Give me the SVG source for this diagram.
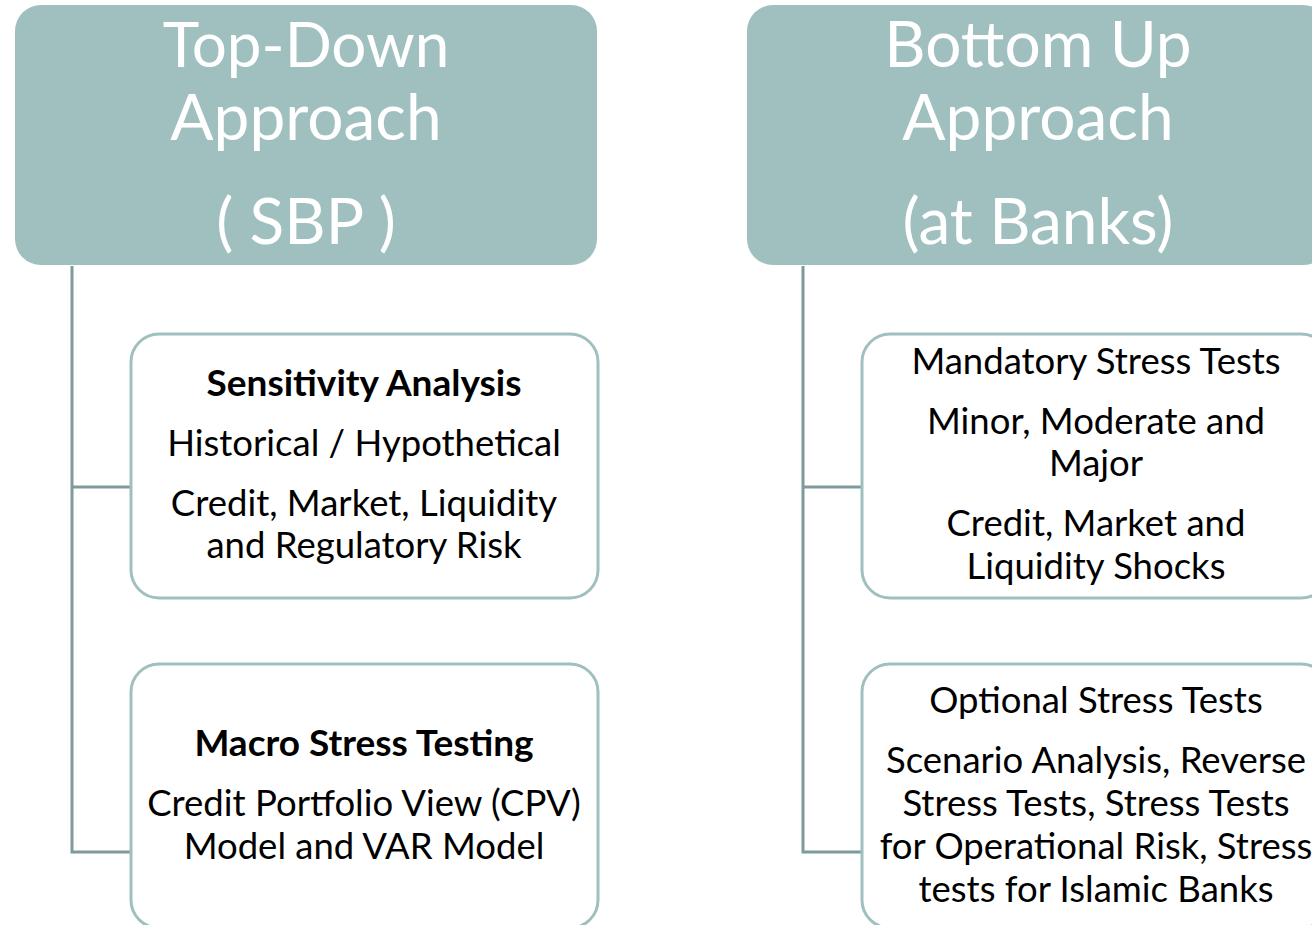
<svg xmlns="http://www.w3.org/2000/svg" width="1312" height="925" viewBox="0 0 1312 925">
  <style>
    .hdr { fill: #9fc0bf; }
    .hdr-t { fill: #ffffff; font-family: Lato, "Open Sans", sans-serif; font-size: 64px; text-anchor: middle; }
    .card { fill: #ffffff; stroke: #a0c0bf; stroke-width: 3; }
    .t { fill: #000000; font-family: Lato, "Open Sans", sans-serif; font-size: 36.5px; text-anchor: middle; }
    .b { font-weight: bold; font-size: 37px; }
    .conn { fill: none; stroke: #7f9a9a; stroke-width: 3; }
  </style>
  <rect width="1312" height="925" fill="#ffffff"/>

  <g id="connectors">
    <path class="conn" d="M72 266 V852 H132 M72 487 H132"/>
    <path class="conn" d="M803 266 V852 H863 M803 487 H863"/>
  </g>

  <g id="top-down">
    <rect class="hdr" x="15" y="5" width="582" height="260" rx="26"/>
    <text class="hdr-t" x="306" y="67" style="font-size:62px">Top-Down</text>
    <text class="hdr-t" x="306" y="140">Approach</text>
    <text class="hdr-t" x="306" y="244">( SBP )</text>
  </g>

  <g id="bottom-up">
    <rect class="hdr" x="747" y="5" width="582" height="260" rx="26"/>
    <text class="hdr-t" x="1038" y="67">Bottom Up</text>
    <text class="hdr-t" x="1038" y="140">Approach</text>
    <text class="hdr-t" x="1038" y="244">(at Banks)</text>
  </g>

  <g id="sensitivity">
    <rect class="card" x="131" y="334" width="467" height="264" rx="28"/>
    <text class="t b" x="364" y="396">Sensitivity Analysis</text>
    <text class="t" x="364" y="456">Historical / Hypothetical</text>
    <text class="t" x="364" y="516">Credit, Market, Liquidity</text>
    <text class="t" x="364" y="558">and Regulatory Risk</text>
  </g>

  <g id="macro">
    <rect class="card" x="131" y="664" width="467" height="264" rx="28"/>
    <text class="t b" x="364" y="756">Macro Stress Testing</text>
    <text class="t" x="364" y="816">Credit Portfolio View (CPV)</text>
    <text class="t" x="364" y="859">Model and VAR Model</text>
  </g>

  <g id="mandatory">
    <rect class="card" x="862" y="334" width="467" height="264" rx="28"/>
    <text class="t" x="1096" y="374">Mandatory Stress Tests</text>
    <text class="t" x="1096" y="434">Minor, Moderate and</text>
    <text class="t" x="1096" y="476">Major</text>
    <text class="t" x="1096" y="536">Credit, Market and</text>
    <text class="t" x="1096" y="579">Liquidity Shocks</text>
  </g>

  <g id="optional">
    <rect class="card" x="862" y="664" width="467" height="264" rx="28"/>
    <text class="t" x="1096" y="713">Optional Stress Tests</text>
    <text class="t" x="1096" y="773">Scenario Analysis, Reverse</text>
    <text class="t" x="1096" y="816">Stress Tests, Stress Tests</text>
    <text class="t" x="1096" y="859">for Operational Risk, Stress</text>
    <text class="t" x="1096" y="902">tests for Islamic Banks</text>
  </g>
</svg>
